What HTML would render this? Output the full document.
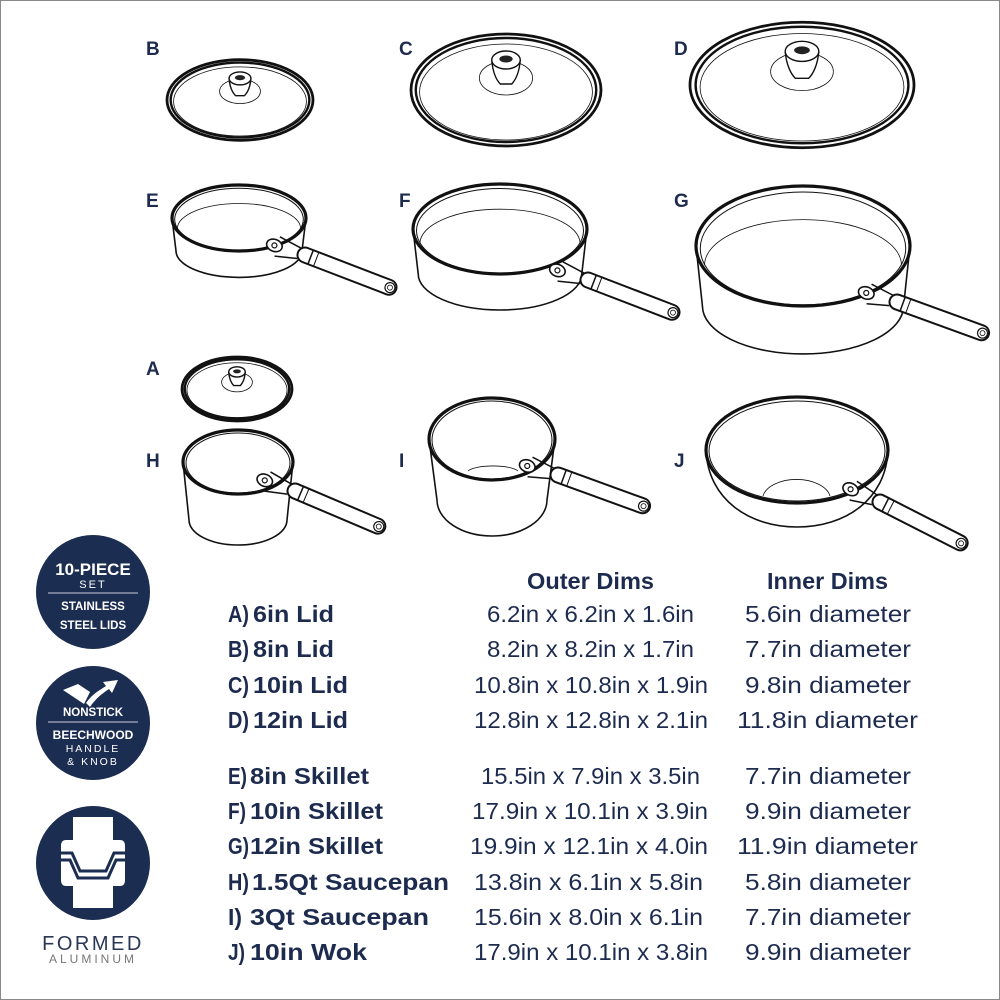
<!DOCTYPE html>
<html><head><meta charset="utf-8"><style>
html,body{margin:0;padding:0;background:#fff}
svg{display:block}
.t{font-family:"Liberation Sans",sans-serif;fill:#1d2b4f}
.b{font-weight:bold}
</style></head><body>
<svg width="1000" height="1000" viewBox="0 0 1000 1000" xmlns="http://www.w3.org/2000/svg">
<rect x="0.5" y="0.5" width="999" height="999" fill="#fff" stroke="#8a8a8a" stroke-width="1"/>
<defs>
<g id="lid" fill="none" stroke="#111">
  <ellipse cx="0" cy="0" rx="100" ry="56" stroke-width="2.8" vector-effect="non-scaling-stroke" fill="#fff"/>
  <ellipse cx="0" cy="0" rx="95" ry="52" stroke-width="2.4" vector-effect="non-scaling-stroke"/>
  <ellipse cx="0" cy="2" rx="91" ry="48" stroke-width="0.8" vector-effect="non-scaling-stroke"/>
  <ellipse cx="0" cy="-12" rx="28" ry="17" stroke-width="0.8" vector-effect="non-scaling-stroke"/>
  <path d="M-15,-30 C-14,-18 -10,-10 -6,-6 L6,-6 C10,-10 14,-18 15,-30" stroke-width="1.4" vector-effect="non-scaling-stroke" fill="#fff"/>
  <ellipse cx="0" cy="-30" rx="15" ry="9" stroke-width="1.4" vector-effect="non-scaling-stroke" fill="#fff"/>
  <ellipse cx="0" cy="-31" rx="7" ry="3.5" fill="#222" stroke="none"/>
</g>
<g id="skillet" fill="none" stroke="#111">
  <path d="M-100,0 L-94,50 A94,40 0 0 0 94,50 L100,0" stroke-width="1.6" vector-effect="non-scaling-stroke" fill="#fff"/>
  <ellipse cx="0" cy="0" rx="100" ry="50" stroke-width="3.2" vector-effect="non-scaling-stroke" fill="#fff"/>
  <ellipse cx="0" cy="2" rx="96" ry="47" stroke-width="1" vector-effect="non-scaling-stroke"/>
  <path d="M-92,8 A92,38 0 0 1 92,8" stroke-width="0.8" vector-effect="non-scaling-stroke" transform="translate(0,8)"/>
</g>
<g id="handle">
  <line x1="0" y1="0" x2="90" y2="0" stroke="#111" stroke-width="17" stroke-linecap="round"/>
  <line x1="0" y1="0" x2="90" y2="0" stroke="#fff" stroke-width="13" stroke-linecap="round"/>
  <line x1="6" y1="-7" x2="6" y2="7" stroke="#111" stroke-width="1.5"/>
  <line x1="12" y1="-7" x2="12" y2="7" stroke="#111" stroke-width="1"/>
  <circle cx="91" cy="0" r="5" fill="none" stroke="#111" stroke-width="1.2"/>
  <circle cx="91" cy="0" r="2.5" fill="none" stroke="#111" stroke-width="0.8"/>
  <path d="M-6,-5 L-30,-8 M-6,6 L-28,12" stroke="#111" stroke-width="1.5" fill="none"/>
  <ellipse cx="-32" cy="2" rx="8" ry="6" fill="#fff" stroke="#111" stroke-width="1.6"/>
  <circle cx="-32" cy="2" r="2.5" fill="none" stroke="#111" stroke-width="1.2"/>
</g>
</defs>

<use href="#lid" transform="translate(240,100) scale(0.73,0.72)"/>
<use href="#lid" transform="translate(506,90) scale(0.95,1.0)"/>
<use href="#lid" transform="translate(802,85) scale(1.12,1.12)"/>
<use href="#lid" transform="translate(237,389) scale(0.55,0.57)"/>

<use href="#skillet" transform="translate(239,218) scale(0.67,0.66)"/>
<use href="#handle" transform="translate(305,255) rotate(21)"/>
<use href="#skillet" transform="translate(500,229) scale(0.87,0.9)"/>
<use href="#handle" transform="translate(588,280) rotate(21)"/>
<use href="#skillet" transform="translate(803,246) scale(1.07,1.2)"/>
<use href="#handle" transform="translate(897,302) rotate(20)"/>

<g fill="none" stroke="#111">
  <path d="M183,462 L189,520 A49,25 0 0 0 287,520 L293,462" stroke-width="1.6" fill="#fff"/>
  <ellipse cx="238" cy="462" rx="55" ry="32" stroke-width="3.2" fill="#fff"/>
  <ellipse cx="238" cy="463" rx="52" ry="30" stroke-width="1"/>
</g>
<use href="#handle" transform="translate(295,491) rotate(23)"/>
<g fill="none" stroke="#111">
  <path d="M429,439 L437,500 A55,36 0 0 0 547,500 L555,439" stroke-width="1.6" fill="#fff"/>
  <ellipse cx="492" cy="439" rx="63" ry="41" stroke-width="3.2" fill="#fff"/>
  <ellipse cx="492" cy="440" rx="60" ry="39" stroke-width="1"/>
  <path d="M468,471 A26,7 0 0 1 518,471" stroke-width="0.8"/>
</g>
<use href="#handle" transform="translate(558,475) rotate(20)"/>
<g fill="none" stroke="#111">
  <path d="M706,450 C708,500 750,527 797,527 C845,527 886,500 888,450" stroke-width="1.6" fill="#fff"/>
  <ellipse cx="797" cy="450" rx="91" ry="53" stroke-width="3.2" fill="#fff"/>
  <ellipse cx="797" cy="451" rx="88" ry="50" stroke-width="1"/>
  <path d="M763,496 A34,20 0 0 1 830,496" stroke-width="0.8"/>
</g>
<use href="#handle" transform="translate(880,502) rotate(27)"/>

<g class="t b" font-size="19">
<text x="146" y="55">B</text><text x="399" y="55">C</text><text x="674" y="55">D</text>
<text x="146" y="207">E</text><text x="399" y="207">F</text><text x="674" y="207">G</text>
<text x="146" y="375">A</text>
<text x="146" y="467">H</text><text x="399" y="467">I</text><text x="674" y="467">J</text>
</g>

<g class="t b" font-size="23">
<text x="527" y="589" textLength="127" lengthAdjust="spacingAndGlyphs">Outer Dims</text>
<text x="767" y="589" textLength="121" lengthAdjust="spacingAndGlyphs">Inner Dims</text>
<text x="228" y="622" textLength="21" lengthAdjust="spacingAndGlyphs">A)</text><text x="253" y="622" textLength="81" lengthAdjust="spacingAndGlyphs">6in Lid</text>
<text x="228" y="657" textLength="21" lengthAdjust="spacingAndGlyphs">B)</text><text x="253" y="657" textLength="81" lengthAdjust="spacingAndGlyphs">8in Lid</text>
<text x="228" y="693" textLength="21" lengthAdjust="spacingAndGlyphs">C)</text><text x="253" y="693" textLength="95" lengthAdjust="spacingAndGlyphs">10in Lid</text>
<text x="228" y="728" textLength="21" lengthAdjust="spacingAndGlyphs">D)</text><text x="253" y="728" textLength="95" lengthAdjust="spacingAndGlyphs">12in Lid</text>
<text x="228" y="784" textLength="19" lengthAdjust="spacingAndGlyphs">E)</text><text x="250" y="784" textLength="119" lengthAdjust="spacingAndGlyphs">8in Skillet</text>
<text x="228" y="819" textLength="18" lengthAdjust="spacingAndGlyphs">F)</text><text x="250" y="819" textLength="133" lengthAdjust="spacingAndGlyphs">10in Skillet</text>
<text x="228" y="854" textLength="21" lengthAdjust="spacingAndGlyphs">G)</text><text x="250" y="854" textLength="133" lengthAdjust="spacingAndGlyphs">12in Skillet</text>
<text x="228" y="890" textLength="21" lengthAdjust="spacingAndGlyphs">H)</text><text x="252" y="890" textLength="197" lengthAdjust="spacingAndGlyphs">1.5Qt Saucepan</text>
<text x="228" y="925" textLength="14" lengthAdjust="spacingAndGlyphs">I)</text><text x="250" y="925" textLength="179" lengthAdjust="spacingAndGlyphs">3Qt Saucepan</text>
<text x="228" y="960" textLength="17" lengthAdjust="spacingAndGlyphs">J)</text><text x="250" y="960" textLength="117" lengthAdjust="spacingAndGlyphs">10in Wok</text>
</g>
<g class="t" font-size="23">
<text x="487" y="622" textLength="207" lengthAdjust="spacingAndGlyphs">6.2in x 6.2in x 1.6in</text>
<text x="487" y="657" textLength="207" lengthAdjust="spacingAndGlyphs">8.2in x 8.2in x 1.7in</text>
<text x="474" y="693" textLength="234" lengthAdjust="spacingAndGlyphs">10.8in x 10.8in x 1.9in</text>
<text x="474" y="728" textLength="234" lengthAdjust="spacingAndGlyphs">12.8in x 12.8in x 2.1in</text>
<text x="481" y="784" textLength="219" lengthAdjust="spacingAndGlyphs">15.5in x 7.9in x 3.5in</text>
<text x="472" y="819" textLength="236" lengthAdjust="spacingAndGlyphs">17.9in x 10.1in x 3.9in</text>
<text x="470" y="854" textLength="238" lengthAdjust="spacingAndGlyphs">19.9in x 12.1in x 4.0in</text>
<text x="474" y="890" textLength="229" lengthAdjust="spacingAndGlyphs">13.8in x 6.1in x 5.8in</text>
<text x="474" y="925" textLength="229" lengthAdjust="spacingAndGlyphs">15.6in x 8.0in x 6.1in</text>
<text x="474" y="960" textLength="234" lengthAdjust="spacingAndGlyphs">17.9in x 10.1in x 3.8in</text>
<text x="745" y="622" textLength="166" lengthAdjust="spacingAndGlyphs">5.6in diameter</text>
<text x="745" y="657" textLength="166" lengthAdjust="spacingAndGlyphs">7.7in diameter</text>
<text x="745" y="693" textLength="166" lengthAdjust="spacingAndGlyphs">9.8in diameter</text>
<text x="737" y="728" textLength="181" lengthAdjust="spacingAndGlyphs">11.8in diameter</text>
<text x="745" y="784" textLength="166" lengthAdjust="spacingAndGlyphs">7.7in diameter</text>
<text x="745" y="819" textLength="166" lengthAdjust="spacingAndGlyphs">9.9in diameter</text>
<text x="737" y="854" textLength="181" lengthAdjust="spacingAndGlyphs">11.9in diameter</text>
<text x="745" y="890" textLength="166" lengthAdjust="spacingAndGlyphs">5.8in diameter</text>
<text x="745" y="925" textLength="166" lengthAdjust="spacingAndGlyphs">7.7in diameter</text>
<text x="745" y="960" textLength="166" lengthAdjust="spacingAndGlyphs">9.9in diameter</text>
</g>

<circle cx="93" cy="592" r="57" fill="#1b2d51"/>
<g font-family="Liberation Sans,sans-serif" fill="#fff" text-anchor="middle">
<text x="93" y="575" font-size="17" font-weight="bold">10-PIECE</text>
<text x="93" y="588" font-size="11" letter-spacing="2">SET</text>
<line x1="48" y1="593" x2="138" y2="593" stroke="#c8ccd6" stroke-width="1"/>
<text x="93" y="610" font-size="11.5" font-weight="bold">STAINLESS</text>
<text x="93" y="629" font-size="11.5" font-weight="bold">STEEL LIDS</text>
</g>
<circle cx="93" cy="723" r="57" fill="#1b2d51"/>
<path d="M63,690 L78,684 L90,692 L84,704 Z" fill="#fff"/>
<path d="M86,703 C92,694 100,690 106,686 L103,682 L118,680 L112,693 L109,689 C103,693 96,698 90,707 Z" fill="#fff"/>
<g font-family="Liberation Sans,sans-serif" fill="#fff" text-anchor="middle">
<text x="93" y="716" font-size="11.5" font-weight="bold">NONSTICK</text>
<line x1="48" y1="722" x2="138" y2="722" stroke="#c8ccd6" stroke-width="1"/>
<text x="93" y="739" font-size="12" font-weight="bold">BEECHWOOD</text>
<text x="93" y="752" font-size="10.5" letter-spacing="2">HANDLE</text>
<text x="93" y="765" font-size="10.5" letter-spacing="2">&amp; KNOB</text>
</g>
<circle cx="93" cy="863" r="57" fill="#1b2d51"/>
<path d="M73,817 L113,817 L113,840 L120,840 Q125,840 125,846 L125,880 Q125,886 120,886 L113,886 L113,908 L73,908 L73,886 L66,886 Q61,886 61,880 L61,846 Q61,840 66,840 L73,840 Z" fill="#fff"/>
<path d="M59,853 L72,853 L80,871 L106,871 L114,853 L127,853" fill="none" stroke="#1b2d51" stroke-width="3"/>
<path d="M59,860 L70,860 L78,878 L108,878 L116,860 L127,860" fill="none" stroke="#1b2d51" stroke-width="3"/>
<g font-family="Liberation Sans,sans-serif" text-anchor="middle">
<text x="93" y="950" font-size="20" fill="#2a3754" letter-spacing="2.5">FORMED</text>
<text x="93" y="963" font-size="12" fill="#777" letter-spacing="3">ALUMINUM</text>
</g>
</svg>
</body></html>
